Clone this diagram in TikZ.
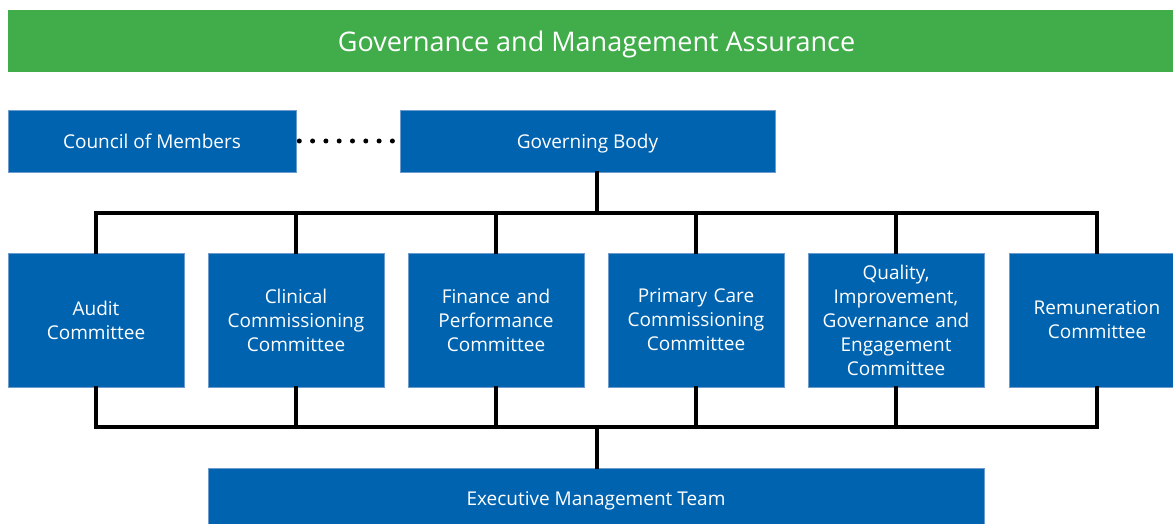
\documentclass[tikz,border=0pt]{standalone}
\usepackage{fontspec}
\setmainfont{Open Sans}
\definecolor{govgreen}{RGB}{65,173,74}
\definecolor{govblue}{RGB}{0,99,175}
\definecolor{edgeblue}{RGB}{110,155,205}
\begin{document}
\begin{tikzpicture}[x=1pt,y=-1pt,
  box/.style={fill=govblue, draw=edgeblue, line width=0.6pt, text=white,
    align=center, inner sep=0pt, font=\fontsize{19}{24}\selectfont},
  bar/.style={box, text depth=0pt, minimum height=62pt},
  header/.style={fill=govgreen, text=white, inner sep=0pt, text depth=0pt,
    font=\fontsize{27}{32}\selectfont},
  committee/.style={box, minimum width=176pt, minimum height=134pt, text width=170pt},
  conn/.style={draw=black, line width=3.2pt, line join=miter, line cap=rect},
  dotline/.style={draw=black, line width=5pt, line cap=round,
    dash pattern=on 0pt off 13.3pt}]
  \useasboundingbox (0,0) rectangle (1173,524);
  \clip (0,0) rectangle (1173,524);

  % heading bar
  \node[header, minimum width=1177pt, minimum height=62pt] (top) at (596.5,41)
    {Governance and Management Assurance};

  % governing tier
  \node[bar, minimum width=288pt] (council) at (152,141) {Council of Members};
  \node[bar, minimum width=375pt] (gb) at (587.5,141) {Governing Body};

  % committees
  \node[committee] (c1) at (96,320)  {Audit\\Committee};
  \node[committee] (c2) at (296,320) {Clinical\\Commissioning\\Committee};
  \node[committee] (c3) at (496,320) {Finance and\\Performance\\Committee};
  \node[committee] (c4) at (696,320) {Primary Care\\Commissioning\\Committee};
  \node[committee] (c5) at (896,320) {Quality,\\Improvement,\\Governance and\\Engagement\\Committee};
  \node[committee] (c6) at (1097,320) {Remuneration\\Committee};

  % executive team
  \node[bar, minimum width=776pt] (emt) at (596,499) {Executive Management Team};

  % bus bars
  \coordinate (tb) at (597,213);
  \coordinate (bb) at (597,427);

  % council to governing body (dotted)
  \path[dotline] ([xshift=3pt]council.east) -- ([xshift=-5pt]gb.west);

  % governing body down to committees
  \draw[conn] (gb.south -| tb) -- (tb);
  \draw[conn] (c1.north) -- (c1.north |- tb) -- (c6.north |- tb) -- (c6.north);
  \foreach \c in {c2,c3,c4,c5}
    \draw[conn] (\c.north) -- (\c.north |- tb);

  % committees down to executive team
  \draw[conn] (c1.south) -- (c1.south |- bb) -- (c6.south |- bb) -- (c6.south);
  \foreach \c in {c2,c3,c4,c5}
    \draw[conn] (\c.south) -- (\c.south |- bb);
  \draw[conn] (bb) -- (emt.north -| bb);
\end{tikzpicture}
\end{document}
